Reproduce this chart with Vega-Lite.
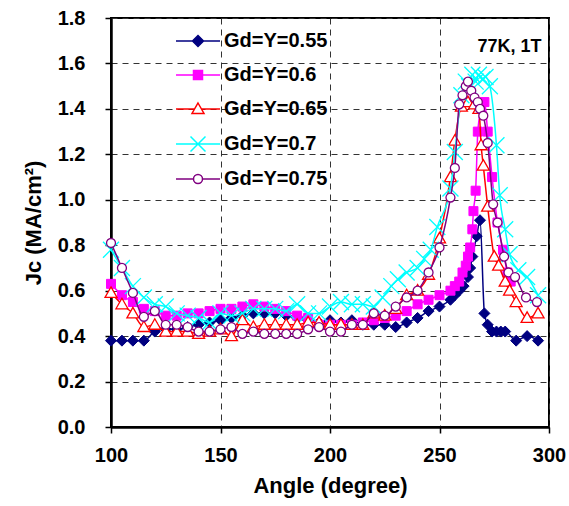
{
  "$schema": "https://vega.github.io/schema/vega-lite/v6.json",
  "width": 438,
  "height": 409,
  "autosize": {"type": "none"},
  "padding": {"left": 111, "top": 18, "right": 20, "bottom": 79},
  "background": "white",
  "config": {
    "view": {"stroke": "black", "strokeWidth": 2},
    "font": "Liberation Sans",
    "axis": {
      "labelFont": "Liberation Sans", "labelFontSize": 20, "labelFontWeight": "bold", "labelColor": "black",
      "titleFont": "Liberation Sans", "titleFontSize": 22, "titleFontWeight": "bold", "titleColor": "black",
      "domainColor": "black", "domainWidth": 2.5, "tickColor": "black", "tickWidth": 1.5, "tickSize": 6,
      "grid": true, "gridColor": "#333", "gridDash": [6, 5], "gridWidth": 1
    },
    "legend": {"orient": "none", "legendX": 77, "legendY": 13, "padding": 0, "offset": 0,
      "labelFont": "Liberation Sans", "labelFontSize": 20, "labelFontWeight": "bold", "labelColor": "black",
      "labelOffset": 16, "rowPadding": 14, "symbolSize": 100, "symbolStrokeWidth": 1.5, "symbolOpacity": 1}
  },
  "data": {"values": [
    {"s":"Gd=Y=0.55","a":100,"j":0.38},{"s":"Gd=Y=0.55","a":105,"j":0.38},{"s":"Gd=Y=0.55","a":110,"j":0.38},{"s":"Gd=Y=0.55","a":115,"j":0.38},{"s":"Gd=Y=0.55","a":120,"j":0.42},{"s":"Gd=Y=0.55","a":125,"j":0.43},{"s":"Gd=Y=0.55","a":130,"j":0.43},{"s":"Gd=Y=0.55","a":135,"j":0.44},{"s":"Gd=Y=0.55","a":140,"j":0.45},{"s":"Gd=Y=0.55","a":145,"j":0.46},{"s":"Gd=Y=0.55","a":150,"j":0.47},{"s":"Gd=Y=0.55","a":155,"j":0.48},{"s":"Gd=Y=0.55","a":160,"j":0.49},{"s":"Gd=Y=0.55","a":165,"j":0.5},{"s":"Gd=Y=0.55","a":170,"j":0.5},{"s":"Gd=Y=0.55","a":175,"j":0.5},{"s":"Gd=Y=0.55","a":180,"j":0.49},{"s":"Gd=Y=0.55","a":185,"j":0.48},{"s":"Gd=Y=0.55","a":190,"j":0.47},{"s":"Gd=Y=0.55","a":195,"j":0.46},{"s":"Gd=Y=0.55","a":200,"j":0.47},{"s":"Gd=Y=0.55","a":205,"j":0.46},{"s":"Gd=Y=0.55","a":210,"j":0.47},{"s":"Gd=Y=0.55","a":215,"j":0.45},{"s":"Gd=Y=0.55","a":220,"j":0.45},{"s":"Gd=Y=0.55","a":225,"j":0.45},{"s":"Gd=Y=0.55","a":230,"j":0.44},{"s":"Gd=Y=0.55","a":235,"j":0.46},{"s":"Gd=Y=0.55","a":240,"j":0.48},{"s":"Gd=Y=0.55","a":245,"j":0.51},{"s":"Gd=Y=0.55","a":250,"j":0.53},{"s":"Gd=Y=0.55","a":255,"j":0.56},{"s":"Gd=Y=0.55","a":257,"j":0.58},{"s":"Gd=Y=0.55","a":259,"j":0.6},{"s":"Gd=Y=0.55","a":261,"j":0.62},{"s":"Gd=Y=0.55","a":263,"j":0.66},{"s":"Gd=Y=0.55","a":264,"j":0.7},{"s":"Gd=Y=0.55","a":265,"j":0.75},{"s":"Gd=Y=0.55","a":267,"j":0.84},{"s":"Gd=Y=0.55","a":268.5,"j":0.91},{"s":"Gd=Y=0.55","a":270.5,"j":0.5},{"s":"Gd=Y=0.55","a":272,"j":0.45},{"s":"Gd=Y=0.55","a":274,"j":0.42},{"s":"Gd=Y=0.55","a":276,"j":0.42},{"s":"Gd=Y=0.55","a":278,"j":0.42},{"s":"Gd=Y=0.55","a":280,"j":0.42},{"s":"Gd=Y=0.55","a":285,"j":0.38},{"s":"Gd=Y=0.55","a":290,"j":0.4},{"s":"Gd=Y=0.55","a":295,"j":0.38},

    {"s":"Gd=Y=0.6","a":100,"j":0.63},{"s":"Gd=Y=0.6","a":105,"j":0.58},{"s":"Gd=Y=0.6","a":110,"j":0.55},{"s":"Gd=Y=0.6","a":115,"j":0.52},{"s":"Gd=Y=0.6","a":120,"j":0.51},{"s":"Gd=Y=0.6","a":125,"j":0.49},{"s":"Gd=Y=0.6","a":130,"j":0.49},{"s":"Gd=Y=0.6","a":135,"j":0.5},{"s":"Gd=Y=0.6","a":140,"j":0.5},{"s":"Gd=Y=0.6","a":145,"j":0.51},{"s":"Gd=Y=0.6","a":150,"j":0.52},{"s":"Gd=Y=0.6","a":155,"j":0.52},{"s":"Gd=Y=0.6","a":160,"j":0.53},{"s":"Gd=Y=0.6","a":165,"j":0.54},{"s":"Gd=Y=0.6","a":170,"j":0.53},{"s":"Gd=Y=0.6","a":175,"j":0.52},{"s":"Gd=Y=0.6","a":180,"j":0.51},{"s":"Gd=Y=0.6","a":185,"j":0.49},{"s":"Gd=Y=0.6","a":190,"j":0.48},{"s":"Gd=Y=0.6","a":195,"j":0.45},{"s":"Gd=Y=0.6","a":200,"j":0.45},{"s":"Gd=Y=0.6","a":205,"j":0.45},{"s":"Gd=Y=0.6","a":210,"j":0.45},{"s":"Gd=Y=0.6","a":215,"j":0.46},{"s":"Gd=Y=0.6","a":220,"j":0.47},{"s":"Gd=Y=0.6","a":225,"j":0.48},{"s":"Gd=Y=0.6","a":230,"j":0.49},{"s":"Gd=Y=0.6","a":235,"j":0.51},{"s":"Gd=Y=0.6","a":240,"j":0.54},{"s":"Gd=Y=0.6","a":245,"j":0.56},{"s":"Gd=Y=0.6","a":250,"j":0.58},{"s":"Gd=Y=0.6","a":255,"j":0.6},{"s":"Gd=Y=0.6","a":257,"j":0.62},{"s":"Gd=Y=0.6","a":259,"j":0.64},{"s":"Gd=Y=0.6","a":260.5,"j":0.68},{"s":"Gd=Y=0.6","a":262,"j":0.71},{"s":"Gd=Y=0.6","a":263,"j":0.75},{"s":"Gd=Y=0.6","a":264,"j":0.79},{"s":"Gd=Y=0.6","a":265,"j":0.87},{"s":"Gd=Y=0.6","a":265.5,"j":0.95},{"s":"Gd=Y=0.6","a":266.5,"j":1.04},{"s":"Gd=Y=0.6","a":267.5,"j":1.3},{"s":"Gd=Y=0.6","a":269,"j":1.4},{"s":"Gd=Y=0.6","a":270.5,"j":1.43},{"s":"Gd=Y=0.6","a":272,"j":1.3},{"s":"Gd=Y=0.6","a":274,"j":1.1},{"s":"Gd=Y=0.6","a":276.5,"j":0.9},{"s":"Gd=Y=0.6","a":279,"j":0.78},{"s":"Gd=Y=0.6","a":281,"j":0.68},{"s":"Gd=Y=0.6","a":282.5,"j":0.64},

    {"s":"Gd=Y=0.65","a":100,"j":0.59},{"s":"Gd=Y=0.65","a":105,"j":0.54},{"s":"Gd=Y=0.65","a":110,"j":0.5},{"s":"Gd=Y=0.65","a":115,"j":0.44},{"s":"Gd=Y=0.65","a":120,"j":0.45},{"s":"Gd=Y=0.65","a":125,"j":0.42},{"s":"Gd=Y=0.65","a":130,"j":0.42},{"s":"Gd=Y=0.65","a":135,"j":0.42},{"s":"Gd=Y=0.65","a":140,"j":0.41},{"s":"Gd=Y=0.65","a":145,"j":0.42},{"s":"Gd=Y=0.65","a":150,"j":0.43},{"s":"Gd=Y=0.65","a":155,"j":0.4},{"s":"Gd=Y=0.65","a":160,"j":0.47},{"s":"Gd=Y=0.65","a":165,"j":0.44},{"s":"Gd=Y=0.65","a":170,"j":0.45},{"s":"Gd=Y=0.65","a":175,"j":0.45},{"s":"Gd=Y=0.65","a":180,"j":0.45},{"s":"Gd=Y=0.65","a":185,"j":0.45},{"s":"Gd=Y=0.65","a":190,"j":0.46},{"s":"Gd=Y=0.65","a":195,"j":0.46},{"s":"Gd=Y=0.65","a":200,"j":0.45},{"s":"Gd=Y=0.65","a":205,"j":0.45},{"s":"Gd=Y=0.65","a":210,"j":0.45},{"s":"Gd=Y=0.65","a":215,"j":0.45},{"s":"Gd=Y=0.65","a":220,"j":0.5},{"s":"Gd=Y=0.65","a":225,"j":0.49},{"s":"Gd=Y=0.65","a":230,"j":0.52},{"s":"Gd=Y=0.65","a":235,"j":0.58},{"s":"Gd=Y=0.65","a":240,"j":0.6},{"s":"Gd=Y=0.65","a":245,"j":0.67},{"s":"Gd=Y=0.65","a":250,"j":0.83},{"s":"Gd=Y=0.65","a":255,"j":1.1},{"s":"Gd=Y=0.65","a":257,"j":1.26},{"s":"Gd=Y=0.65","a":260,"j":1.41},{"s":"Gd=Y=0.65","a":263,"j":1.43},{"s":"Gd=Y=0.65","a":266,"j":1.42},{"s":"Gd=Y=0.65","a":268,"j":1.4},{"s":"Gd=Y=0.65","a":269,"j":1.24},{"s":"Gd=Y=0.65","a":270,"j":1.15},{"s":"Gd=Y=0.65","a":272,"j":0.97},{"s":"Gd=Y=0.65","a":275,"j":0.75},{"s":"Gd=Y=0.65","a":277,"j":0.71},{"s":"Gd=Y=0.65","a":280,"j":0.64},{"s":"Gd=Y=0.65","a":282,"j":0.6},{"s":"Gd=Y=0.65","a":285,"j":0.55},{"s":"Gd=Y=0.65","a":290,"j":0.48},{"s":"Gd=Y=0.65","a":295,"j":0.5},

    {"s":"Gd=Y=0.7","a":100,"j":0.78},{"s":"Gd=Y=0.7","a":105,"j":0.7},{"s":"Gd=Y=0.7","a":110,"j":0.62},{"s":"Gd=Y=0.7","a":115,"j":0.57},{"s":"Gd=Y=0.7","a":120,"j":0.54},{"s":"Gd=Y=0.7","a":125,"j":0.53},{"s":"Gd=Y=0.7","a":130,"j":0.5},{"s":"Gd=Y=0.7","a":135,"j":0.49},{"s":"Gd=Y=0.7","a":140,"j":0.48},{"s":"Gd=Y=0.7","a":145,"j":0.46},{"s":"Gd=Y=0.7","a":150,"j":0.5},{"s":"Gd=Y=0.7","a":155,"j":0.49},{"s":"Gd=Y=0.7","a":160,"j":0.5},{"s":"Gd=Y=0.7","a":165,"j":0.52},{"s":"Gd=Y=0.7","a":170,"j":0.52},{"s":"Gd=Y=0.7","a":175,"j":0.52},{"s":"Gd=Y=0.7","a":180,"j":0.51},{"s":"Gd=Y=0.7","a":185,"j":0.54},{"s":"Gd=Y=0.7","a":190,"j":0.5},{"s":"Gd=Y=0.7","a":195,"j":0.5},{"s":"Gd=Y=0.7","a":200,"j":0.53},{"s":"Gd=Y=0.7","a":205,"j":0.55},{"s":"Gd=Y=0.7","a":210,"j":0.54},{"s":"Gd=Y=0.7","a":215,"j":0.54},{"s":"Gd=Y=0.7","a":220,"j":0.53},{"s":"Gd=Y=0.7","a":224,"j":0.57},{"s":"Gd=Y=0.7","a":228,"j":0.62},{"s":"Gd=Y=0.7","a":231,"j":0.65},{"s":"Gd=Y=0.7","a":235,"j":0.68},{"s":"Gd=Y=0.7","a":240,"j":0.7},{"s":"Gd=Y=0.7","a":243,"j":0.74},{"s":"Gd=Y=0.7","a":246,"j":0.78},{"s":"Gd=Y=0.7","a":249,"j":0.88},{"s":"Gd=Y=0.7","a":255,"j":1.05},{"s":"Gd=Y=0.7","a":257,"j":1.21},{"s":"Gd=Y=0.7","a":260,"j":1.46},{"s":"Gd=Y=0.7","a":262,"j":1.52},{"s":"Gd=Y=0.7","a":263.5,"j":1.5},{"s":"Gd=Y=0.7","a":265,"j":1.55},{"s":"Gd=Y=0.7","a":266.5,"j":1.52},{"s":"Gd=Y=0.7","a":268,"j":1.55},{"s":"Gd=Y=0.7","a":269.5,"j":1.53},{"s":"Gd=Y=0.7","a":271,"j":1.54},{"s":"Gd=Y=0.7","a":273,"j":1.5},{"s":"Gd=Y=0.7","a":276,"j":1.24},{"s":"Gd=Y=0.7","a":277.5,"j":1.02},{"s":"Gd=Y=0.7","a":280,"j":0.87},{"s":"Gd=Y=0.7","a":282,"j":0.76},{"s":"Gd=Y=0.7","a":286,"j":0.69},{"s":"Gd=Y=0.7","a":290,"j":0.66},{"s":"Gd=Y=0.7","a":295,"j":0.58},

    {"s":"Gd=Y=0.75","a":100,"j":0.81},{"s":"Gd=Y=0.75","a":105,"j":0.7},{"s":"Gd=Y=0.75","a":110,"j":0.59},{"s":"Gd=Y=0.75","a":115,"j":0.485},{"s":"Gd=Y=0.75","a":120,"j":0.51},{"s":"Gd=Y=0.75","a":125,"j":0.45},{"s":"Gd=Y=0.75","a":130,"j":0.45},{"s":"Gd=Y=0.75","a":135,"j":0.44},{"s":"Gd=Y=0.75","a":140,"j":0.42},{"s":"Gd=Y=0.75","a":145,"j":0.42},{"s":"Gd=Y=0.75","a":150,"j":0.43},{"s":"Gd=Y=0.75","a":155,"j":0.44},{"s":"Gd=Y=0.75","a":160,"j":0.41},{"s":"Gd=Y=0.75","a":165,"j":0.42},{"s":"Gd=Y=0.75","a":170,"j":0.41},{"s":"Gd=Y=0.75","a":175,"j":0.41},{"s":"Gd=Y=0.75","a":180,"j":0.41},{"s":"Gd=Y=0.75","a":185,"j":0.41},{"s":"Gd=Y=0.75","a":190,"j":0.43},{"s":"Gd=Y=0.75","a":195,"j":0.44},{"s":"Gd=Y=0.75","a":200,"j":0.42},{"s":"Gd=Y=0.75","a":205,"j":0.42},{"s":"Gd=Y=0.75","a":210,"j":0.45},{"s":"Gd=Y=0.75","a":215,"j":0.45},{"s":"Gd=Y=0.75","a":220,"j":0.5},{"s":"Gd=Y=0.75","a":225,"j":0.49},{"s":"Gd=Y=0.75","a":230,"j":0.53},{"s":"Gd=Y=0.75","a":235,"j":0.57},{"s":"Gd=Y=0.75","a":240,"j":0.6},{"s":"Gd=Y=0.75","a":245,"j":0.68},{"s":"Gd=Y=0.75","a":250,"j":0.79},{"s":"Gd=Y=0.75","a":255,"j":1.01},{"s":"Gd=Y=0.75","a":257,"j":1.14},{"s":"Gd=Y=0.75","a":259,"j":1.42},{"s":"Gd=Y=0.75","a":260.5,"j":1.46},{"s":"Gd=Y=0.75","a":262,"j":1.5},{"s":"Gd=Y=0.75","a":263,"j":1.52},{"s":"Gd=Y=0.75","a":264.5,"j":1.48},{"s":"Gd=Y=0.75","a":266,"j":1.45},{"s":"Gd=Y=0.75","a":267.5,"j":1.43},{"s":"Gd=Y=0.75","a":268.5,"j":1.4},{"s":"Gd=Y=0.75","a":270,"j":1.37},{"s":"Gd=Y=0.75","a":272,"j":1.25},{"s":"Gd=Y=0.75","a":274.5,"j":0.98},{"s":"Gd=Y=0.75","a":276.5,"j":0.9},{"s":"Gd=Y=0.75","a":279.5,"j":0.75},{"s":"Gd=Y=0.75","a":281.5,"j":0.68},{"s":"Gd=Y=0.75","a":284.5,"j":0.66},{"s":"Gd=Y=0.75","a":289.5,"j":0.57},{"s":"Gd=Y=0.75","a":294.5,"j":0.55}
  ]},
  "encoding": {
    "x": {"field": "a", "type": "quantitative", "scale": {"domain": [100, 300], "nice": false, "zero": false},
      "axis": {"values": [100, 150, 200, 250, 300], "title": "Angle (degree)", "labelPadding": 12, "titlePadding": 10, "labelFlush": false}},
    "y": {"field": "j", "type": "quantitative", "scale": {"domain": [0, 1.8], "nice": false},
      "axis": {"values": [0, 0.2, 0.4, 0.6, 0.8, 1.0, 1.2, 1.4, 1.6, 1.8], "format": ".1f", "title": "Jc (MA/cm²)", "labelPadding": 20, "titlePadding": 12, "labelFlush": false}}
  },
  "layer": [
    {"transform": [{"filter": "datum.s === 'Gd=Y=0.55'"}],
     "mark": {"type": "line", "interpolate": "monotone", "strokeWidth": 1.5, "color": "#000080", "clip": true}, "encoding": {}},
    {"transform": [{"filter": "datum.s === 'Gd=Y=0.55'"}],
     "mark": {"type": "point", "shape": "M0,-1.1L1.1,0L0,1.1L-1.1,0Z", "size": 100, "filled": true, "fill": "#000080", "stroke": "#000080", "strokeWidth": 1, "opacity": 1}, "encoding": {}},
    {"transform": [{"filter": "datum.s === 'Gd=Y=0.6'"}],
     "mark": {"type": "line", "interpolate": "monotone", "strokeWidth": 1.5, "color": "#FF00FF", "clip": true}, "encoding": {}},
    {"transform": [{"filter": "datum.s === 'Gd=Y=0.6'"}],
     "mark": {"type": "point", "shape": "M-0.9,-0.9H0.9V0.9H-0.9Z", "size": 100, "filled": true, "fill": "#FF00FF", "stroke": "#FF00FF", "strokeWidth": 1, "opacity": 1}, "encoding": {}},
    {"transform": [{"filter": "datum.s === 'Gd=Y=0.65'"}],
     "mark": {"type": "line", "interpolate": "monotone", "strokeWidth": 1.5, "color": "#FF0000", "clip": true}, "encoding": {}},
    {"transform": [{"filter": "datum.s === 'Gd=Y=0.65'"}],
     "mark": {"type": "point", "shape": "M0,-1.2L1.2,0.9L-1.2,0.9Z", "size": 100, "filled": false, "fill": "white", "stroke": "#FF0000", "strokeWidth": 1.3, "opacity": 1}, "encoding": {}},
    {"transform": [{"filter": "datum.s === 'Gd=Y=0.7'"}],
     "mark": {"type": "line", "interpolate": "monotone", "strokeWidth": 1.5, "color": "#00FFFF", "clip": true}, "encoding": {}},
    {"transform": [{"filter": "datum.s === 'Gd=Y=0.7'"}],
     "mark": {"type": "point", "shape": "M-1.6,-1.6L1.6,1.6M-1.6,1.6L1.6,-1.6", "size": 100, "filled": false, "stroke": "#00FFFF", "strokeWidth": 1.3, "opacity": 1}, "encoding": {}},
    {"transform": [{"filter": "datum.s === 'Gd=Y=0.75'"}],
     "mark": {"type": "line", "interpolate": "monotone", "strokeWidth": 1.5, "color": "#800080", "clip": true}, "encoding": {}},
    {"transform": [{"filter": "datum.s === 'Gd=Y=0.75'"}],
     "mark": {"type": "point", "shape": "circle", "size": 80, "filled": false, "fill": "white", "stroke": "#800080", "strokeWidth": 1.3, "opacity": 1}, "encoding": {}},
    {
      "mark": {"type": "point", "filled": true, "opacity": 0, "strokeWidth": 1.5, "size": 100},
      "encoding": {
        "shape": {"field": "s", "type": "nominal", "title": null,
          "scale": {"domain": ["Gd=Y=0.55", "Gd=Y=0.6", "Gd=Y=0.65", "Gd=Y=0.7", "Gd=Y=0.75"],
                    "range": ["M-4.4,0H4.4M0,-1.1L1.1,0L0,1.1L-1.1,0Z", "M-4.4,0H4.4M-0.9,-0.9H0.9V0.9H-0.9Z", "M-4.4,0H-0.69M0.69,0H4.4M0,-1.2L1.2,0.9L-1.2,0.9Z", "M-4.4,0H4.4M-1.5,-1.5L1.5,1.5M-1.5,1.5L1.5,-1.5", "M-4.4,0H-0.9M0.9,0H4.4M0.9,0A0.9,0.9 0 1 1 -0.9,0A0.9,0.9 0 1 1 0.9,0Z"]}},
        "stroke": {"field": "s", "type": "nominal", "title": null,
          "scale": {"domain": ["Gd=Y=0.55", "Gd=Y=0.6", "Gd=Y=0.65", "Gd=Y=0.7", "Gd=Y=0.75"],
                    "range": ["#000080", "#FF00FF", "#FF0000", "#00FFFF", "#800080"]}},
        "fill": {"field": "s", "type": "nominal", "title": null,
          "scale": {"domain": ["Gd=Y=0.55", "Gd=Y=0.6", "Gd=Y=0.65", "Gd=Y=0.7", "Gd=Y=0.75"],
                    "range": ["#000080", "#FF00FF", "white", "white", "white"]}}
      }
    },
    {
      "transform": [{"filter": "datum.s === 'Gd=Y=0.55' && datum.a === 100"}],
      "mark": {"type": "text", "font": "Liberation Sans", "fontSize": 18, "fontWeight": "bold", "color": "black", "align": "center", "baseline": "middle"},
      "encoding": {"x": {"datum": 282}, "y": {"datum": 1.674}, "text": {"value": "77K, 1T"}}
    }
  ]
}
